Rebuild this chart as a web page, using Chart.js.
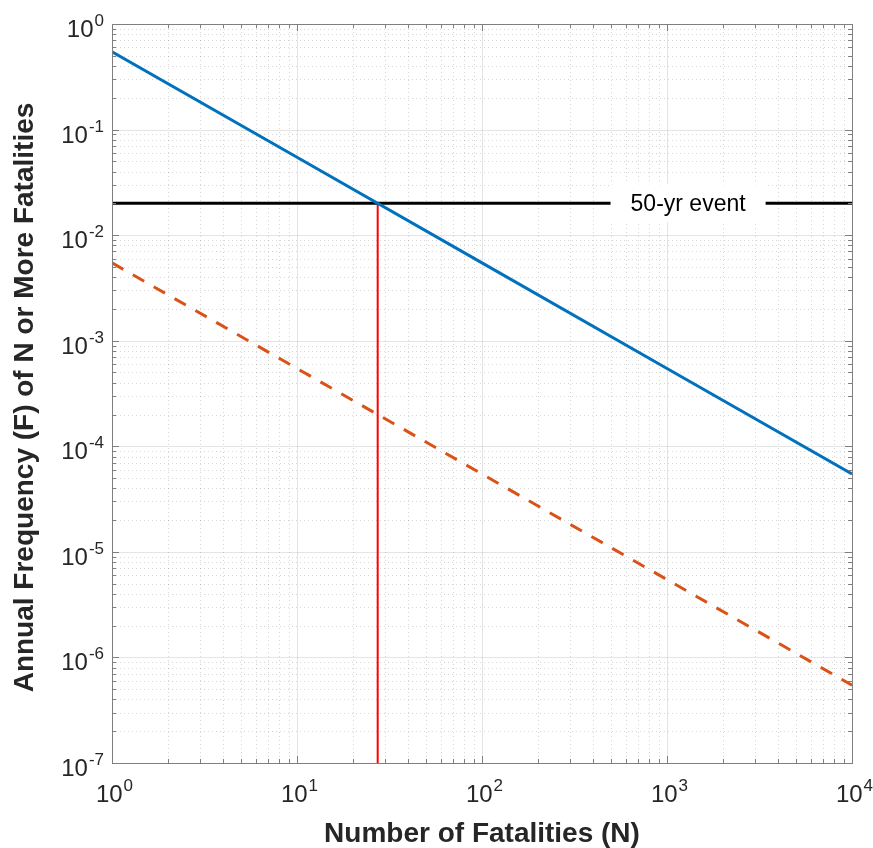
<!DOCTYPE html>
<html>
<head>
<meta charset="utf-8">
<title>F-N curve</title>
<script src="https://cdn.jsdelivr.net/npm/chart.js@4.4.1/dist/chart.umd.min.js"></script>
<style>
  html, body { margin: 0; padding: 0; background: #ffffff; }
  #fnChart { display: block; }
</style>
</head>
<body>
<canvas id="fnChart" width="873" height="848"></canvas>
<script>
// Number of fatalities (N) and annual frequency of N or more fatalities (F)
const fatalities = [1, 10, 100, 1000, 10000];
const societalRisk = [0.546, 0.0546, 0.00546, 0.000546, 0.0000546];
const criterionRisk = [0.00546, 0.000546, 0.0000546, 0.00000546, 0.000000546];

// 50-year event: F = 1/50, reached at N ~ 27
const eventFrequency = 0.02;
const eventFatalities = 27.3;
const eventLabel = '50-yr event';
const eventLabelAt = 1300;

// axis limits and decade tick exponents
const xDecades = [0, 1, 2, 3, 4];
const yDecades = [0, -1, -2, -3, -4, -5, -6, -7];

const textColor = '#262626';
const axisColor = '#7f7f7f';

const toPoints = (xs, ys) => xs.map((x, i) => ({ x: x, y: ys[i] }));

// draws "10" with the exponent raised
function drawPower(ctx, exp, x, y, align) {
    const base = '10', sup = String(exp);
    ctx.font = '24px "Liberation Sans", Arial, sans-serif';
    const wb = ctx.measureText(base).width;
    ctx.font = '17px "Liberation Sans", Arial, sans-serif';
    const ws = ctx.measureText(sup).width;
    const total = wb + ws;
    let start = align === 'right' ? x - total : x - total / 2;
    ctx.fillStyle = textColor;
    ctx.textAlign = 'left';
    ctx.textBaseline = 'alphabetic';
    ctx.font = '24px "Liberation Sans", Arial, sans-serif';
    ctx.fillText(base, start, y);
    ctx.font = '17px "Liberation Sans", Arial, sans-serif';
    ctx.fillText(sup, start + wb + 1, y - 11);
}

function logTicks(decades) {
    const lo = Math.min(...decades), hi = Math.max(...decades);
    const list = [];
    for (let d = lo; d <= hi; d++) {
        list.push({ v: Math.pow(10, d), major: true });
        if (d < hi) {
            for (let m = 2; m <= 9; m++) list.push({ v: m * Math.pow(10, d), major: false });
        }
    }
    return list;
}

const matlabAxes = {
    id: 'matlabAxes',
    beforeDatasetsDraw(chart) {
        const { ctx, chartArea: a, scales: { x, y } } = chart;
        ctx.save();
        ctx.lineWidth = 1;
        // minor grid, dotted
        ctx.strokeStyle = 'rgba(0,0,0,0.16)';
        ctx.setLineDash([1, 3]);
        ctx.beginPath();
        logTicks(xDecades).filter(t => !t.major).forEach(t => {
            const px = Math.round(x.getPixelForValue(t.v)) + 0.5;
            ctx.moveTo(px, a.top); ctx.lineTo(px, a.bottom);
        });
        logTicks(yDecades).filter(t => !t.major).forEach(t => {
            const py = Math.round(y.getPixelForValue(t.v)) + 0.5;
            ctx.moveTo(a.left, py); ctx.lineTo(a.right, py);
        });
        ctx.stroke();
        // major grid, solid
        ctx.setLineDash([]);
        ctx.strokeStyle = 'rgba(0,0,0,0.1)';
        ctx.beginPath();
        xDecades.forEach(d => {
            const px = Math.round(x.getPixelForValue(Math.pow(10, d))) + 0.5;
            ctx.moveTo(px, a.top); ctx.lineTo(px, a.bottom);
        });
        yDecades.forEach(d => {
            const py = Math.round(y.getPixelForValue(Math.pow(10, d))) + 0.5;
            ctx.moveTo(a.left, py); ctx.lineTo(a.right, py);
        });
        ctx.stroke();
        ctx.restore();
    },
    afterDatasetsDraw(chart) {
        const { ctx, chartArea: a, scales: { x, y } } = chart;
        ctx.save();

        // label on the event line
        const lx = x.getPixelForValue(eventLabelAt);
        const ly = y.getPixelForValue(eventFrequency);
        ctx.font = '23px "Liberation Sans", Arial, sans-serif';
        const tw = ctx.measureText(eventLabel).width;
        ctx.fillStyle = '#ffffff';
        ctx.fillRect(lx - tw / 2 - 20, ly - 19, tw + 40, 38);
        ctx.fillStyle = '#000000';
        ctx.textAlign = 'center';
        ctx.textBaseline = 'middle';
        ctx.fillText(eventLabel, lx, ly + 1);

        // box
        ctx.strokeStyle = axisColor;
        ctx.lineWidth = 1;
        ctx.strokeRect(Math.round(a.left) + 0.5, Math.round(a.top) + 0.5,
            Math.round(a.right - a.left), Math.round(a.bottom - a.top));

        // inward ticks on all four sides
        ctx.beginPath();
        logTicks(xDecades).forEach(t => {
            const px = Math.round(x.getPixelForValue(t.v)) + 0.5;
            const len = t.major ? 7 : 4;
            ctx.moveTo(px, a.bottom); ctx.lineTo(px, a.bottom - len);
            ctx.moveTo(px, a.top); ctx.lineTo(px, a.top + len);
        });
        logTicks(yDecades).forEach(t => {
            const py = Math.round(y.getPixelForValue(t.v)) + 0.5;
            const len = t.major ? 7 : 4;
            ctx.moveTo(a.left, py); ctx.lineTo(a.left + len, py);
            ctx.moveTo(a.right, py); ctx.lineTo(a.right - len, py);
        });
        ctx.stroke();

        // tick labels
        xDecades.forEach(d => drawPower(ctx, d, x.getPixelForValue(Math.pow(10, d)) + 2, a.bottom + 39, 'center'));
        yDecades.forEach(d => drawPower(ctx, d, a.left - 9, y.getPixelForValue(Math.pow(10, d)) + 13, 'right'));

        // axis titles
        ctx.fillStyle = textColor;
        ctx.font = 'bold 28px "Liberation Sans", Arial, sans-serif';
        ctx.textAlign = 'center';
        ctx.textBaseline = 'alphabetic';
        ctx.fillText('Number of Fatalities (N)', (a.left + a.right) / 2, 842);
        ctx.translate(33, (a.top + a.bottom) / 2 + 4);
        ctx.rotate(-Math.PI / 2);
        ctx.fillText('Annual Frequency (F) of N or More Fatalities', 0, 0);
        ctx.restore();
    }
};

const data = {
    datasets: [
        {
            label: 'F-N curve',
            data: toPoints(fatalities, societalRisk),
            borderColor: '#0072BD',
            borderWidth: 3
        },
        {
            label: 'Criterion',
            data: toPoints(fatalities, criterionRisk),
            borderColor: '#D95319',
            borderWidth: 3,
            borderDash: [13, 11]
        },
        {
            label: '50-yr event',
            data: [{ x: fatalities[0], y: eventFrequency }, { x: fatalities[fatalities.length - 1], y: eventFrequency }],
            borderColor: '#000000',
            borderWidth: 3
        },
        {
            label: 'N at 50-yr event',
            data: [{ x: eventFatalities, y: 1e-7 }, { x: eventFatalities, y: eventFrequency }],
            borderColor: '#FF0000',
            borderWidth: 2
        }
    ]
};

const config = {
    type: 'line',
    data: data,
    options: {
        responsive: false,
        animation: false,
        devicePixelRatio: 1,
        layout: {
            padding: { left: 112, top: 24, right: 21, bottom: 85 }
        },
        elements: {
            point: { radius: 0 },
            line: { tension: 0, borderCapStyle: 'butt' }
        },
        scales: {
            x: {
                type: 'logarithmic',
                min: Math.pow(10, Math.min(...xDecades)),
                max: Math.pow(10, Math.max(...xDecades)),
                display: false
            },
            y: {
                type: 'logarithmic',
                min: Math.pow(10, Math.min(...yDecades)),
                max: Math.pow(10, Math.max(...yDecades)),
                display: false
            }
        },
        plugins: {
            legend: { display: false },
            tooltip: { enabled: false }
        }
    },
    plugins: [matlabAxes]
};

const fnChart = new Chart(document.getElementById('fnChart'), config);
</script>
</body>
</html>
